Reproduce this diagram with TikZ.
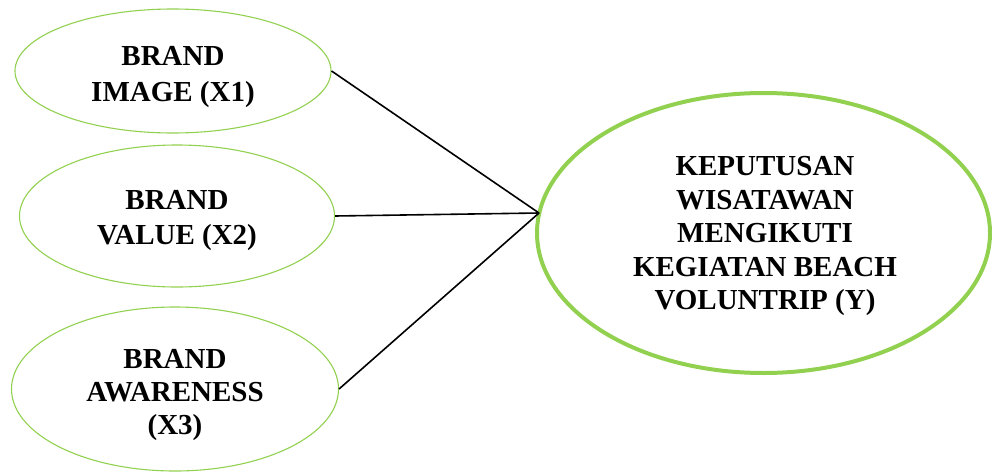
\documentclass[tikz,border=0pt]{standalone}
\usepackage{fontspec}
\setmainfont{Liberation Serif}
\usetikzlibrary{shapes.geometric}
\definecolor{lgreen}{HTML}{92D050}
\begin{document}
\begin{tikzpicture}[x=1pt,y=-1pt,
  lbl/.style={font=\fontsize{29}{#1}\selectfont\bfseries, align=center, text=black, inner sep=0pt},
  small/.style={ellipse, draw=lgreen, line width=1.1pt, inner sep=0pt},
  big/.style={ellipse, draw=lgreen, line width=4pt, inner sep=0pt},
  conn/.style={draw=black, line width=1.6pt}]
\useasboundingbox (0,0) rectangle (992,471);
\node[small, minimum width=316, minimum height=124] (e1) at (173,71) {};
\node[lbl=36] (t1) at (173,77) {BRAND\\IMAGE (X1)};
\node[small, minimum width=315, minimum height=142] (e2) at (177,216) {};
\node[lbl=35] (t2) at (177,220.5) {BRAND\\VALUE (X2)};
\node[small, minimum width=327, minimum height=164] (e3) at (175,389) {};
\begin{scope}
  \clip (0,300) rectangle (992,439);
  \node[lbl=33] (t3) at (175,395) {BRAND\\AWARENESS\\(X3)};
\end{scope}
\node[big, minimum width=453, minimum height=280] (y) at (763.5,233) {};
\node[lbl=33.5] (ty) at (765,236) {KEPUTUSAN\\WISATAWAN\\MENGIKUTI\\KEGIATAN BEACH\\VOLUNTRIP (Y)};
\coordinate (m) at (539,213);
\draw[conn] (e1.east) -- (m);
\draw[conn] (e2.east) -- (m);
\draw[conn] (e3.east) -- (m);
\end{tikzpicture}
\end{document}
